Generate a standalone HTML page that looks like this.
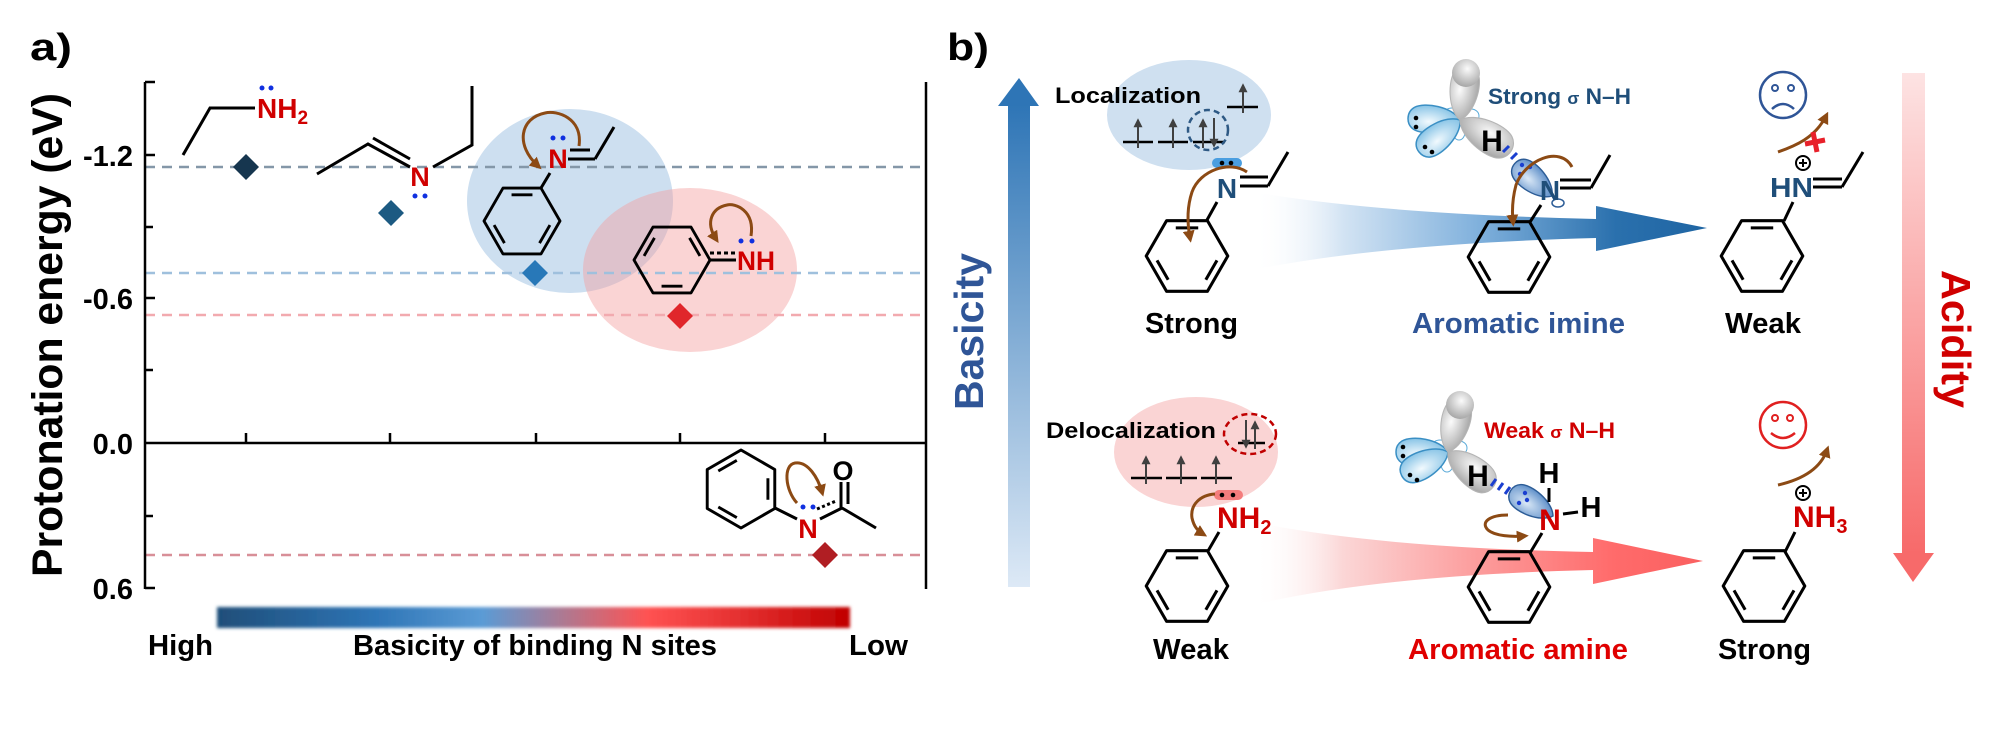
<!DOCTYPE html>
<html><head><meta charset="utf-8"><style>
html,body{margin:0;padding:0;background:#fff;}
svg{display:block;font-family:"Liberation Sans",Arial,sans-serif;font-weight:bold;}
</style></head><body>
<svg width="2000" height="753" viewBox="0 0 2000 753" xmlns="http://www.w3.org/2000/svg">
<defs>
<g id="bA1">
<polygon points="40,0 20,34.64 -20,34.64 -40,0 -20,-34.64 20,-34.64" fill="none" stroke="#000" stroke-width="3" stroke-linejoin="round"/>
<path d="M-11,-27.6 L11,-27.6 M29.4,4.3 L18.45,23.3 M-18.45,23.3 L-29.4,4.3" stroke="#000" stroke-width="3" fill="none"/>
</g>
<g id="bA2">
<polygon points="40,0 20,34.64 -20,34.64 -40,0 -20,-34.64 20,-34.64" fill="none" stroke="#000" stroke-width="3" stroke-linejoin="round"/>
<path d="M18.45,-23.3 L29.4,-4.3 M-11,27.6 L11,27.6 M-29.4,-4.3 L-18.45,-23.3" stroke="#000" stroke-width="3" fill="none"/>
</g>
<path id="lobe" d="M0,0 C8,-13 36,-17 46,-11 C54,-6 54,6 46,11 C36,17 8,13 0,0 Z"/>
<marker id="br" viewBox="0 0 10 10" refX="6" refY="5" markerWidth="4" markerHeight="4" orient="auto" markerUnits="strokeWidth"><path d="M0,0 L10,5 L0,10 Z" fill="#8c4a14"/></marker>
<marker id="ea" viewBox="0 0 10 10" refX="8" refY="5" markerWidth="5" markerHeight="4.5" orient="auto" markerUnits="strokeWidth"><path d="M0,0 L10,5 L0,10 Z" fill="#404040"/></marker>
<radialGradient id="gB" cx="0.6" cy="0.4" r="0.75"><stop offset="0" stop-color="#f2fafe"/><stop offset="1" stop-color="#6db6e0"/></radialGradient>
<radialGradient id="gG" cx="0.55" cy="0.35" r="0.75"><stop offset="0" stop-color="#fbfbfb"/><stop offset="1" stop-color="#9a9a9a"/></radialGradient>
<radialGradient id="gN" cx="0.6" cy="0.4" r="0.75"><stop offset="0" stop-color="#dbe9f7"/><stop offset="1" stop-color="#3f78bd"/></radialGradient>
<linearGradient id="cbar" x1="0" y1="0" x2="1" y2="0">
<stop offset="0" stop-color="#1f4e79"/><stop offset="0.25" stop-color="#2e75b6"/><stop offset="0.42" stop-color="#5b9bd5"/><stop offset="0.55" stop-color="#b07890"/><stop offset="0.68" stop-color="#ff5252"/><stop offset="0.85" stop-color="#e02a2a"/><stop offset="1" stop-color="#c00000"/>
</linearGradient>
<linearGradient id="basG" x1="0" y1="0" x2="0" y2="1"><stop offset="0" stop-color="#2e75b6"/><stop offset="1" stop-color="#dde9f6"/></linearGradient>
<linearGradient id="acG" x1="0" y1="0" x2="0" y2="1"><stop offset="0" stop-color="#fde3e3"/><stop offset="1" stop-color="#f76a6a"/></linearGradient>
<linearGradient id="wB" gradientUnits="userSpaceOnUse" x1="1253" y1="0" x2="1707" y2="0"><stop offset="0" stop-color="#ffffff" stop-opacity="0"/><stop offset="0.2" stop-color="#d2e3f3"/><stop offset="0.5" stop-color="#7fb0dc"/><stop offset="0.8" stop-color="#2a70ad"/><stop offset="1" stop-color="#1f65a3"/></linearGradient>
<linearGradient id="wR" gradientUnits="userSpaceOnUse" x1="1253" y1="0" x2="1703" y2="0"><stop offset="0" stop-color="#ffffff" stop-opacity="0"/><stop offset="0.2" stop-color="#fbd6d6"/><stop offset="0.5" stop-color="#fc9c9c"/><stop offset="0.8" stop-color="#ff6b6b"/><stop offset="1" stop-color="#fa6060"/></linearGradient>
<filter id="blur" x="-5%" y="-50%" width="110%" height="200%"><feGaussianBlur stdDeviation="1.5"/></filter>
</defs>

<!-- ================= PANEL A ================= -->
<text x="30" y="60" font-size="38" textLength="42" lengthAdjust="spacingAndGlyphs">a)</text>
<text transform="translate(62,577) rotate(-90)" font-size="42.7" textLength="484" lengthAdjust="spacingAndGlyphs">Protonation energy (eV)</text>

<!-- ellipses -->
<ellipse cx="570" cy="201" rx="103" ry="92" fill="#cddff0"/>
<ellipse cx="690" cy="270" rx="107" ry="82" fill="rgb(245,160,160)" fill-opacity="0.45"/>

<!-- dashed lines -->
<g stroke-width="2.5" stroke-dasharray="10 7" fill="none">
<line x1="145" y1="167" x2="926" y2="167" stroke="#8497a8"/>
<line x1="145" y1="273" x2="926" y2="273" stroke="#9fc0dd"/>
<line x1="145" y1="315" x2="926" y2="315" stroke="#f2aaaf"/>
<line x1="145" y1="555" x2="926" y2="555" stroke="#d88f98"/>
</g>

<!-- axes -->
<g stroke="#000" stroke-width="2.5" fill="none">
<line x1="145" y1="82" x2="145" y2="589"/>
<line x1="926" y1="82" x2="926" y2="589"/>
<line x1="145" y1="443" x2="926" y2="443"/>
<path d="M145,82 H155 M145,155 H155 M145,227 H153 M145,298 H155 M145,370 H153 M145,516 H153 M145,588 H155"/>
<path d="M246,443 V433 M390,443 V433 M536,443 V433 M680,443 V433 M825,443 V433"/>
</g>
<g font-size="29" text-anchor="end">
<text x="133" y="166">-1.2</text>
<text x="133" y="309">-0.6</text>
<text x="133" y="454">0.0</text>
<text x="133" y="599">0.6</text>
</g>

<!-- diamonds -->
<g>
<polygon points="246,154 259,167 246,180 233,167" fill="#16364f"/>
<polygon points="391,200 404,213 391,226 378,213" fill="#1c5a82"/>
<polygon points="535,260 548,273 535,286 522,273" fill="#2878b8"/>
<polygon points="680,303 693,316 680,329 667,316" fill="#e0262b"/>
<polygon points="825,542 838,555 825,568 812,555" fill="#b01e23"/>
</g>

<!-- molecule 1: ethylamine -->
<polyline points="183,155 210,108 255,108" fill="none" stroke="#000" stroke-width="3"/>
<text x="257" y="118" font-size="28" fill="#d00000">NH<tspan font-size="19" dy="6">2</tspan></text>
<circle cx="262" cy="88" r="2.5" fill="#1030e0"/><circle cx="271" cy="88" r="2.5" fill="#1030e0"/>

<!-- molecule 2: imine -->
<g stroke="#000" stroke-width="3" fill="none">
<polyline points="317,174 368,144 410,167"/>
<line x1="373" y1="138" x2="410" y2="159"/>
<polyline points="433,167 472,145 472,86"/>
</g>
<text x="420" y="186" font-size="27" fill="#d00000" text-anchor="middle">N</text>
<circle cx="415" cy="196" r="2.5" fill="#1030e0"/><circle cx="425" cy="196" r="2.5" fill="#1030e0"/>

<!-- molecule 3: phenyl imine -->
<use href="#bA1" transform="translate(522,221) scale(0.95)"/>
<g stroke="#000" stroke-width="3" fill="none">
<line x1="541" y1="188" x2="550" y2="173"/>
<line x1="568" y1="159" x2="595" y2="159"/>
<line x1="570" y1="150" x2="590" y2="150"/>
<line x1="595" y1="159" x2="614" y2="127"/>
</g>
<text x="558" y="168" font-size="27" fill="#d00000" text-anchor="middle">N</text>
<circle cx="553" cy="138" r="2.5" fill="#1030e0"/><circle cx="563" cy="138" r="2.5" fill="#1030e0"/>
<path d="M579,146 C583,118 557,110 545,113 C520,118 515,145 538,166" fill="none" stroke="#8c4a14" stroke-width="3" marker-end="url(#br)"/>

<!-- molecule 4: NH -->
<use href="#bA2" transform="translate(672,260) scale(0.95)"/>
<line x1="710" y1="253" x2="736" y2="253" stroke="#000" stroke-width="3" stroke-dasharray="4 3"/>
<line x1="710" y1="260" x2="736" y2="260" stroke="#000" stroke-width="3"/>
<text x="737" y="270" font-size="27" fill="#d00000" textLength="38" lengthAdjust="spacingAndGlyphs">NH</text>
<circle cx="741" cy="241" r="2.5" fill="#1030e0"/><circle cx="752" cy="241" r="2.5" fill="#1030e0"/>
<path d="M751,236 C755,210 735,203 727,205 C712,208 705,222 716,239" fill="none" stroke="#8c4a14" stroke-width="3" marker-end="url(#br)"/>

<!-- molecule 5: acetanilide -->
<use href="#bA1" transform="translate(741,489) rotate(90) scale(0.975)"/>
<g stroke="#000" stroke-width="3" fill="none">
<line x1="775" y1="508" x2="797" y2="519"/>
<line x1="820" y1="519" x2="842" y2="508"/>
<line x1="817" y1="509" x2="836" y2="501" stroke-dasharray="3 2.5"/>
<line x1="842" y1="508" x2="876" y2="528"/>
<line x1="841" y1="508" x2="841" y2="482"/>
<line x1="848" y1="504" x2="848" y2="482"/>
</g>
<text x="808" y="538" font-size="27" fill="#d00000" text-anchor="middle">N</text>
<text x="843" y="480" font-size="27" fill="#000" text-anchor="middle">O</text>
<circle cx="803" cy="507" r="2.5" fill="#1030e0"/><circle cx="813" cy="507" r="2.5" fill="#1030e0"/>
<path d="M797,503 C785,490 783,465 795,463 C808,461 818,478 822,492" fill="none" stroke="#8c4a14" stroke-width="3" marker-end="url(#br)"/>

<!-- colorbar -->
<rect x="217" y="607" width="633" height="21" fill="url(#cbar)" filter="url(#blur)"/>
<text x="148" y="655" font-size="29" textLength="65" lengthAdjust="spacingAndGlyphs">High</text>
<text x="353" y="655" font-size="29" textLength="364" lengthAdjust="spacingAndGlyphs">Basicity of binding N sites</text>
<text x="849" y="655" font-size="29" textLength="59" lengthAdjust="spacingAndGlyphs">Low</text>

<!-- ================= PANEL B ================= -->
<text x="947" y="60" font-size="38" textLength="42" lengthAdjust="spacingAndGlyphs">b)</text>

<!-- basicity arrow -->
<rect x="1008" y="104" width="22" height="483" fill="url(#basG)"/>
<polygon points="998,106 1039,106 1019,78" fill="#2e75b6"/>
<text transform="translate(983,410) rotate(-90)" font-size="41" fill="#2f5597" textLength="157" lengthAdjust="spacingAndGlyphs">Basicity</text>

<!-- acidity arrow -->
<rect x="1902" y="73" width="23" height="481" fill="url(#acG)"/>
<polygon points="1893,553 1934,553 1913,582" fill="#f76a6a"/>
<text transform="translate(1942,270) rotate(90)" font-size="41" fill="#d00000" textLength="138" lengthAdjust="spacingAndGlyphs">Acidity</text>

<!-- wedges -->
<path d="M1253,192 Q1380,214 1596,219 L1596,206 L1707,228 L1596,251 L1596,238 Q1380,244 1253,270 Z" fill="url(#wB)"/>
<path d="M1253,522 Q1380,548 1593,552 L1593,538 L1703,561 L1593,584 L1593,570 Q1380,575 1253,605 Z" fill="url(#wR)"/>

<!-- ===== upper left: localization ===== -->
<ellipse cx="1189" cy="115" rx="82" ry="55" fill="#cfe0f0"/>
<text x="1055" y="103" font-size="22" textLength="146" lengthAdjust="spacingAndGlyphs">Localization</text>
<g stroke="#000" stroke-width="2.5">
<line x1="1123" y1="142" x2="1153" y2="142"/><line x1="1158" y1="142" x2="1188" y2="142"/><line x1="1193" y1="142" x2="1225" y2="142"/>
<line x1="1227" y1="107" x2="1258" y2="107"/>
</g>
<g stroke="#404040" stroke-width="2" marker-end="url(#ea)">
<line x1="1138" y1="148" x2="1138" y2="120"/>
<line x1="1173" y1="148" x2="1173" y2="120"/>
<line x1="1203" y1="148" x2="1203" y2="120"/>
<line x1="1214" y1="118" x2="1214" y2="146"/>
<line x1="1243" y1="113" x2="1243" y2="85"/>
</g>
<circle cx="1208" cy="130" r="20" fill="none" stroke="#2e5984" stroke-width="2.5" stroke-dasharray="6 4"/>
<rect x="1212" y="158" width="30" height="10" rx="5" fill="#4a9ee0"/>
<circle cx="1222" cy="163" r="2.3" fill="#000"/><circle cx="1231" cy="163" r="2.3" fill="#000"/>
<text x="1227" y="198" font-size="28" fill="#1f4e79" text-anchor="middle">N</text>
<g stroke="#000" stroke-width="3" fill="none">
<line x1="1240" y1="177" x2="1268" y2="177"/><line x1="1240" y1="186" x2="1268" y2="186"/>
<line x1="1268" y1="186" x2="1288" y2="152"/>
<line x1="1217" y1="202" x2="1207" y2="220"/>
</g>
<use href="#bA1" transform="translate(1187,256) scale(1.02)"/>
<path d="M1247,172 C1230,160 1200,170 1192,192 C1187,207 1187,222 1190,238" fill="none" stroke="#8c4a14" stroke-width="3" marker-end="url(#br)"/>
<text x="1145" y="333" font-size="29" textLength="93" lengthAdjust="spacingAndGlyphs">Strong</text>

<!-- ===== upper middle: aromatic imine ===== -->
<g transform="translate(1460,120)">
<ellipse cx="-8" cy="-6" rx="8" ry="6" fill="#fff" stroke="#5aaad8" stroke-width="1"/>
<ellipse cx="11" cy="-4" rx="8" ry="7" fill="#fff" stroke="#5aaad8" stroke-width="1"/>
<ellipse cx="-1" cy="12" rx="6" ry="8" fill="#fff" stroke="#5aaad8" stroke-width="1"/>
<use href="#lobe" transform="rotate(182)" fill="url(#gB)" stroke="#3a8fc4" stroke-width="1.5"/>
<use href="#lobe" transform="rotate(142)" fill="url(#gB)" stroke="#3a8fc4" stroke-width="1.5"/>
<use href="#lobe" transform="rotate(-82) scale(1.05)" fill="url(#gG)" stroke="#b5b5b5" stroke-width="1"/>
<circle cx="6" cy="-47" r="14" fill="url(#gG)"/>
<use href="#lobe" transform="rotate(31) scale(1.15)" fill="url(#gG)" stroke="#b5b5b5" stroke-width="1"/>
<circle cx="-44" cy="-2" r="2.3" fill="#000"/><circle cx="-44" cy="7" r="2.3" fill="#000"/>
<circle cx="-35" cy="27" r="2.3" fill="#000"/><circle cx="-28" cy="32" r="2.3" fill="#000"/>
</g>
<text x="1492" y="151" font-size="30" text-anchor="middle">H</text>
<g stroke="#1a3fd0" stroke-width="3"><line x1="1503" y1="152" x2="1509" y2="146"/><line x1="1511" y1="159" x2="1517" y2="153"/></g>
<use href="#lobe" transform="translate(1552,196) rotate(221) scale(0.95)" fill="url(#gN)" stroke="#2c5c96" stroke-width="1.5"/>
<ellipse cx="1558" cy="203" rx="6" ry="4" fill="none" stroke="#2c5c96" stroke-width="1.5"/>
<circle cx="1522" cy="165" r="2.2" fill="#1a3fd0"/><circle cx="1530" cy="167" r="2.2" fill="#1a3fd0"/><circle cx="1520" cy="174" r="2.2" fill="#1a3fd0"/>
<text x="1550" y="200" font-size="28" fill="#1f4e79" text-anchor="middle">N</text>
<g stroke="#000" stroke-width="3" fill="none">
<line x1="1560" y1="180" x2="1591" y2="180"/><line x1="1560" y1="188" x2="1591" y2="188"/>
<line x1="1591" y1="188" x2="1610" y2="155"/>
<line x1="1541" y1="205" x2="1530" y2="222"/>
</g>
<use href="#bA1" transform="translate(1509,257) scale(1.02)"/>
<path d="M1572,167 C1560,145 1525,160 1516,185 C1512,200 1512,212 1513,222" fill="none" stroke="#8c4a14" stroke-width="3" marker-end="url(#br)"/>
<text x="1488" y="104" font-size="22" fill="#1f4e79" textLength="143" lengthAdjust="spacingAndGlyphs">Strong <tspan font-size="17">σ</tspan> N–H</text>
<text x="1412" y="333" font-size="29" fill="#2f5597" textLength="213" lengthAdjust="spacingAndGlyphs">Aromatic imine</text>

<!-- ===== upper right: weak ===== -->
<circle cx="1783" cy="95" r="23" fill="none" stroke="#2f5597" stroke-width="2.5"/>
<circle cx="1775" cy="88" r="3" fill="none" stroke="#2f5597" stroke-width="2"/><circle cx="1791" cy="88" r="3" fill="none" stroke="#2f5597" stroke-width="2"/>
<path d="M1772,109 Q1783,99 1794,109" fill="none" stroke="#2f5597" stroke-width="2.5"/>
<path d="M1778,152 C1795,146 1815,138 1826,116" fill="none" stroke="#8c4a14" stroke-width="3" marker-end="url(#br)"/>
<g stroke="#e8202a" stroke-width="5"><line x1="1805" y1="144" x2="1825" y2="140"/><line x1="1813" y1="132" x2="1817" y2="152"/></g>
<circle cx="1803" cy="163" r="7" fill="#fff" stroke="#000" stroke-width="2"/>
<path d="M1799,163 H1807 M1803,159 V167" stroke="#000" stroke-width="2"/>
<text x="1770" y="197" font-size="28" fill="#1f4e79" textLength="43" lengthAdjust="spacingAndGlyphs">HN</text>
<g stroke="#000" stroke-width="3" fill="none">
<line x1="1813" y1="179" x2="1842" y2="179"/><line x1="1813" y1="187" x2="1842" y2="187"/>
<line x1="1842" y1="187" x2="1863" y2="152"/>
<line x1="1793" y1="202" x2="1784" y2="221"/>
</g>
<use href="#bA1" transform="translate(1762,256) scale(1.02)"/>
<text x="1725" y="333" font-size="29" textLength="76" lengthAdjust="spacingAndGlyphs">Weak</text>

<!-- ===== lower left: delocalization ===== -->
<ellipse cx="1196" cy="452" rx="82" ry="55" fill="#fad4d4"/>
<text x="1046" y="438" font-size="22" textLength="170" lengthAdjust="spacingAndGlyphs">Delocalization</text>
<ellipse cx="1250" cy="434" rx="26" ry="20" fill="none" stroke="#c00000" stroke-width="2.5" stroke-dasharray="6 4"/>
<g stroke="#000" stroke-width="2.5">
<line x1="1238" y1="443" x2="1265" y2="443"/>
<line x1="1131" y1="478" x2="1162" y2="478"/><line x1="1166" y1="478" x2="1197" y2="478"/><line x1="1201" y1="478" x2="1232" y2="478"/>
</g>
<g stroke="#404040" stroke-width="2" marker-end="url(#ea)">
<line x1="1246" y1="420" x2="1246" y2="447"/>
<line x1="1255" y1="449" x2="1255" y2="422"/>
<line x1="1146" y1="484" x2="1146" y2="457"/>
<line x1="1181" y1="484" x2="1181" y2="457"/>
<line x1="1216" y1="484" x2="1216" y2="457"/>
</g>
<rect x="1214" y="490" width="29" height="10" rx="5" fill="#f47c7c"/>
<circle cx="1222" cy="495" r="2.3" fill="#000"/><circle cx="1233" cy="495" r="2.3" fill="#000"/>
<text x="1217" y="528" font-size="30" fill="#d00000">NH<tspan font-size="20" dy="6">2</tspan></text>
<line x1="1219" y1="532" x2="1208" y2="551" stroke="#000" stroke-width="3"/>
<use href="#bA1" transform="translate(1187,586) scale(1.02)"/>
<path d="M1215,494 C1200,495 1190,505 1192,518 C1194,527 1198,531 1203,534" fill="none" stroke="#8c4a14" stroke-width="3" marker-end="url(#br)"/>
<text x="1153" y="659" font-size="29" textLength="76" lengthAdjust="spacingAndGlyphs">Weak</text>

<!-- ===== lower middle: aromatic amine ===== -->
<g transform="translate(1448,452)">
<ellipse cx="-8" cy="-6" rx="8" ry="6" fill="#fff" stroke="#5aaad8" stroke-width="1"/>
<ellipse cx="11" cy="-4" rx="8" ry="7" fill="#fff" stroke="#5aaad8" stroke-width="1"/>
<ellipse cx="-1" cy="12" rx="6" ry="8" fill="#fff" stroke="#5aaad8" stroke-width="1"/>
<use href="#lobe" transform="rotate(180)" fill="url(#gB)" stroke="#3a8fc4" stroke-width="1.5"/>
<use href="#lobe" transform="rotate(153)" fill="url(#gB)" stroke="#3a8fc4" stroke-width="1.5"/>
<use href="#lobe" transform="rotate(-76) scale(1.05)" fill="url(#gG)" stroke="#b5b5b5" stroke-width="1"/>
<circle cx="12" cy="-47" r="14" fill="url(#gG)"/>
<use href="#lobe" transform="rotate(38) scale(1.1)" fill="url(#gG)" stroke="#b5b5b5" stroke-width="1"/>
<circle cx="-45" cy="-5" r="2.3" fill="#000"/><circle cx="-45" cy="4" r="2.3" fill="#000"/>
<circle cx="-38" cy="23" r="2.3" fill="#000"/><circle cx="-31" cy="28" r="2.3" fill="#000"/>
</g>
<text x="1478" y="486" font-size="30" text-anchor="middle">H</text>
<g stroke="#1a3fd0" stroke-width="3">
<line x1="1491" y1="486" x2="1496" y2="479"/><line x1="1498" y1="490" x2="1503" y2="483"/><line x1="1505" y1="494" x2="1510" y2="487"/><line x1="1512" y1="498" x2="1517" y2="491"/>
</g>
<use href="#lobe" transform="translate(1553,516) rotate(211) scale(0.95)" fill="url(#gN)" stroke="#2c5c96" stroke-width="1.5"/>
<circle cx="1525" cy="493" r="2.2" fill="#1a3fd0"/><circle cx="1527" cy="500" r="2.2" fill="#1a3fd0"/><circle cx="1519" cy="503" r="2.2" fill="#1a3fd0"/>
<text x="1550" y="530" font-size="30" fill="#d00000" text-anchor="middle">N</text>
<text x="1549" y="483" font-size="29" text-anchor="middle">H</text>
<text x="1591" y="517" font-size="29" text-anchor="middle">H</text>
<g stroke="#000" stroke-width="3" fill="none">
<line x1="1549" y1="488" x2="1549" y2="502"/>
<line x1="1563" y1="514" x2="1578" y2="512"/>
<line x1="1542" y1="533" x2="1530" y2="553"/>
</g>
<use href="#bA1" transform="translate(1509,587) scale(1.02)"/>
<path d="M1508,515 C1490,515 1480,522 1488,530 C1495,536 1512,537 1524,536" fill="none" stroke="#8c4a14" stroke-width="3" marker-end="url(#br)"/>
<text x="1484" y="438" font-size="22" fill="#d00000" textLength="131" lengthAdjust="spacingAndGlyphs">Weak <tspan font-size="17">σ</tspan> N–H</text>
<text x="1408" y="659" font-size="29" fill="#e00000" textLength="220" lengthAdjust="spacingAndGlyphs">Aromatic amine</text>

<!-- ===== lower right: strong ===== -->
<circle cx="1783" cy="425" r="23" fill="none" stroke="#e02020" stroke-width="2.5"/>
<circle cx="1775" cy="418" r="3" fill="none" stroke="#e02020" stroke-width="2"/><circle cx="1790" cy="418" r="3" fill="none" stroke="#e02020" stroke-width="2"/>
<path d="M1771,433 Q1783,443 1795,433" fill="none" stroke="#e02020" stroke-width="2.5"/>
<path d="M1778,485 C1800,480 1820,470 1827,450" fill="none" stroke="#8c4a14" stroke-width="3" marker-end="url(#br)"/>
<circle cx="1803" cy="493" r="7" fill="#fff" stroke="#000" stroke-width="2"/>
<path d="M1799,493 H1807 M1803,489 V497" stroke="#000" stroke-width="2"/>
<text x="1793" y="527" font-size="30" fill="#d00000">NH<tspan font-size="20" dy="6">3</tspan></text>
<line x1="1795" y1="532" x2="1785" y2="552" stroke="#000" stroke-width="3"/>
<use href="#bA1" transform="translate(1764,586) scale(1.02)"/>
<text x="1718" y="659" font-size="29" textLength="93" lengthAdjust="spacingAndGlyphs">Strong</text>
</svg>
</body></html>
